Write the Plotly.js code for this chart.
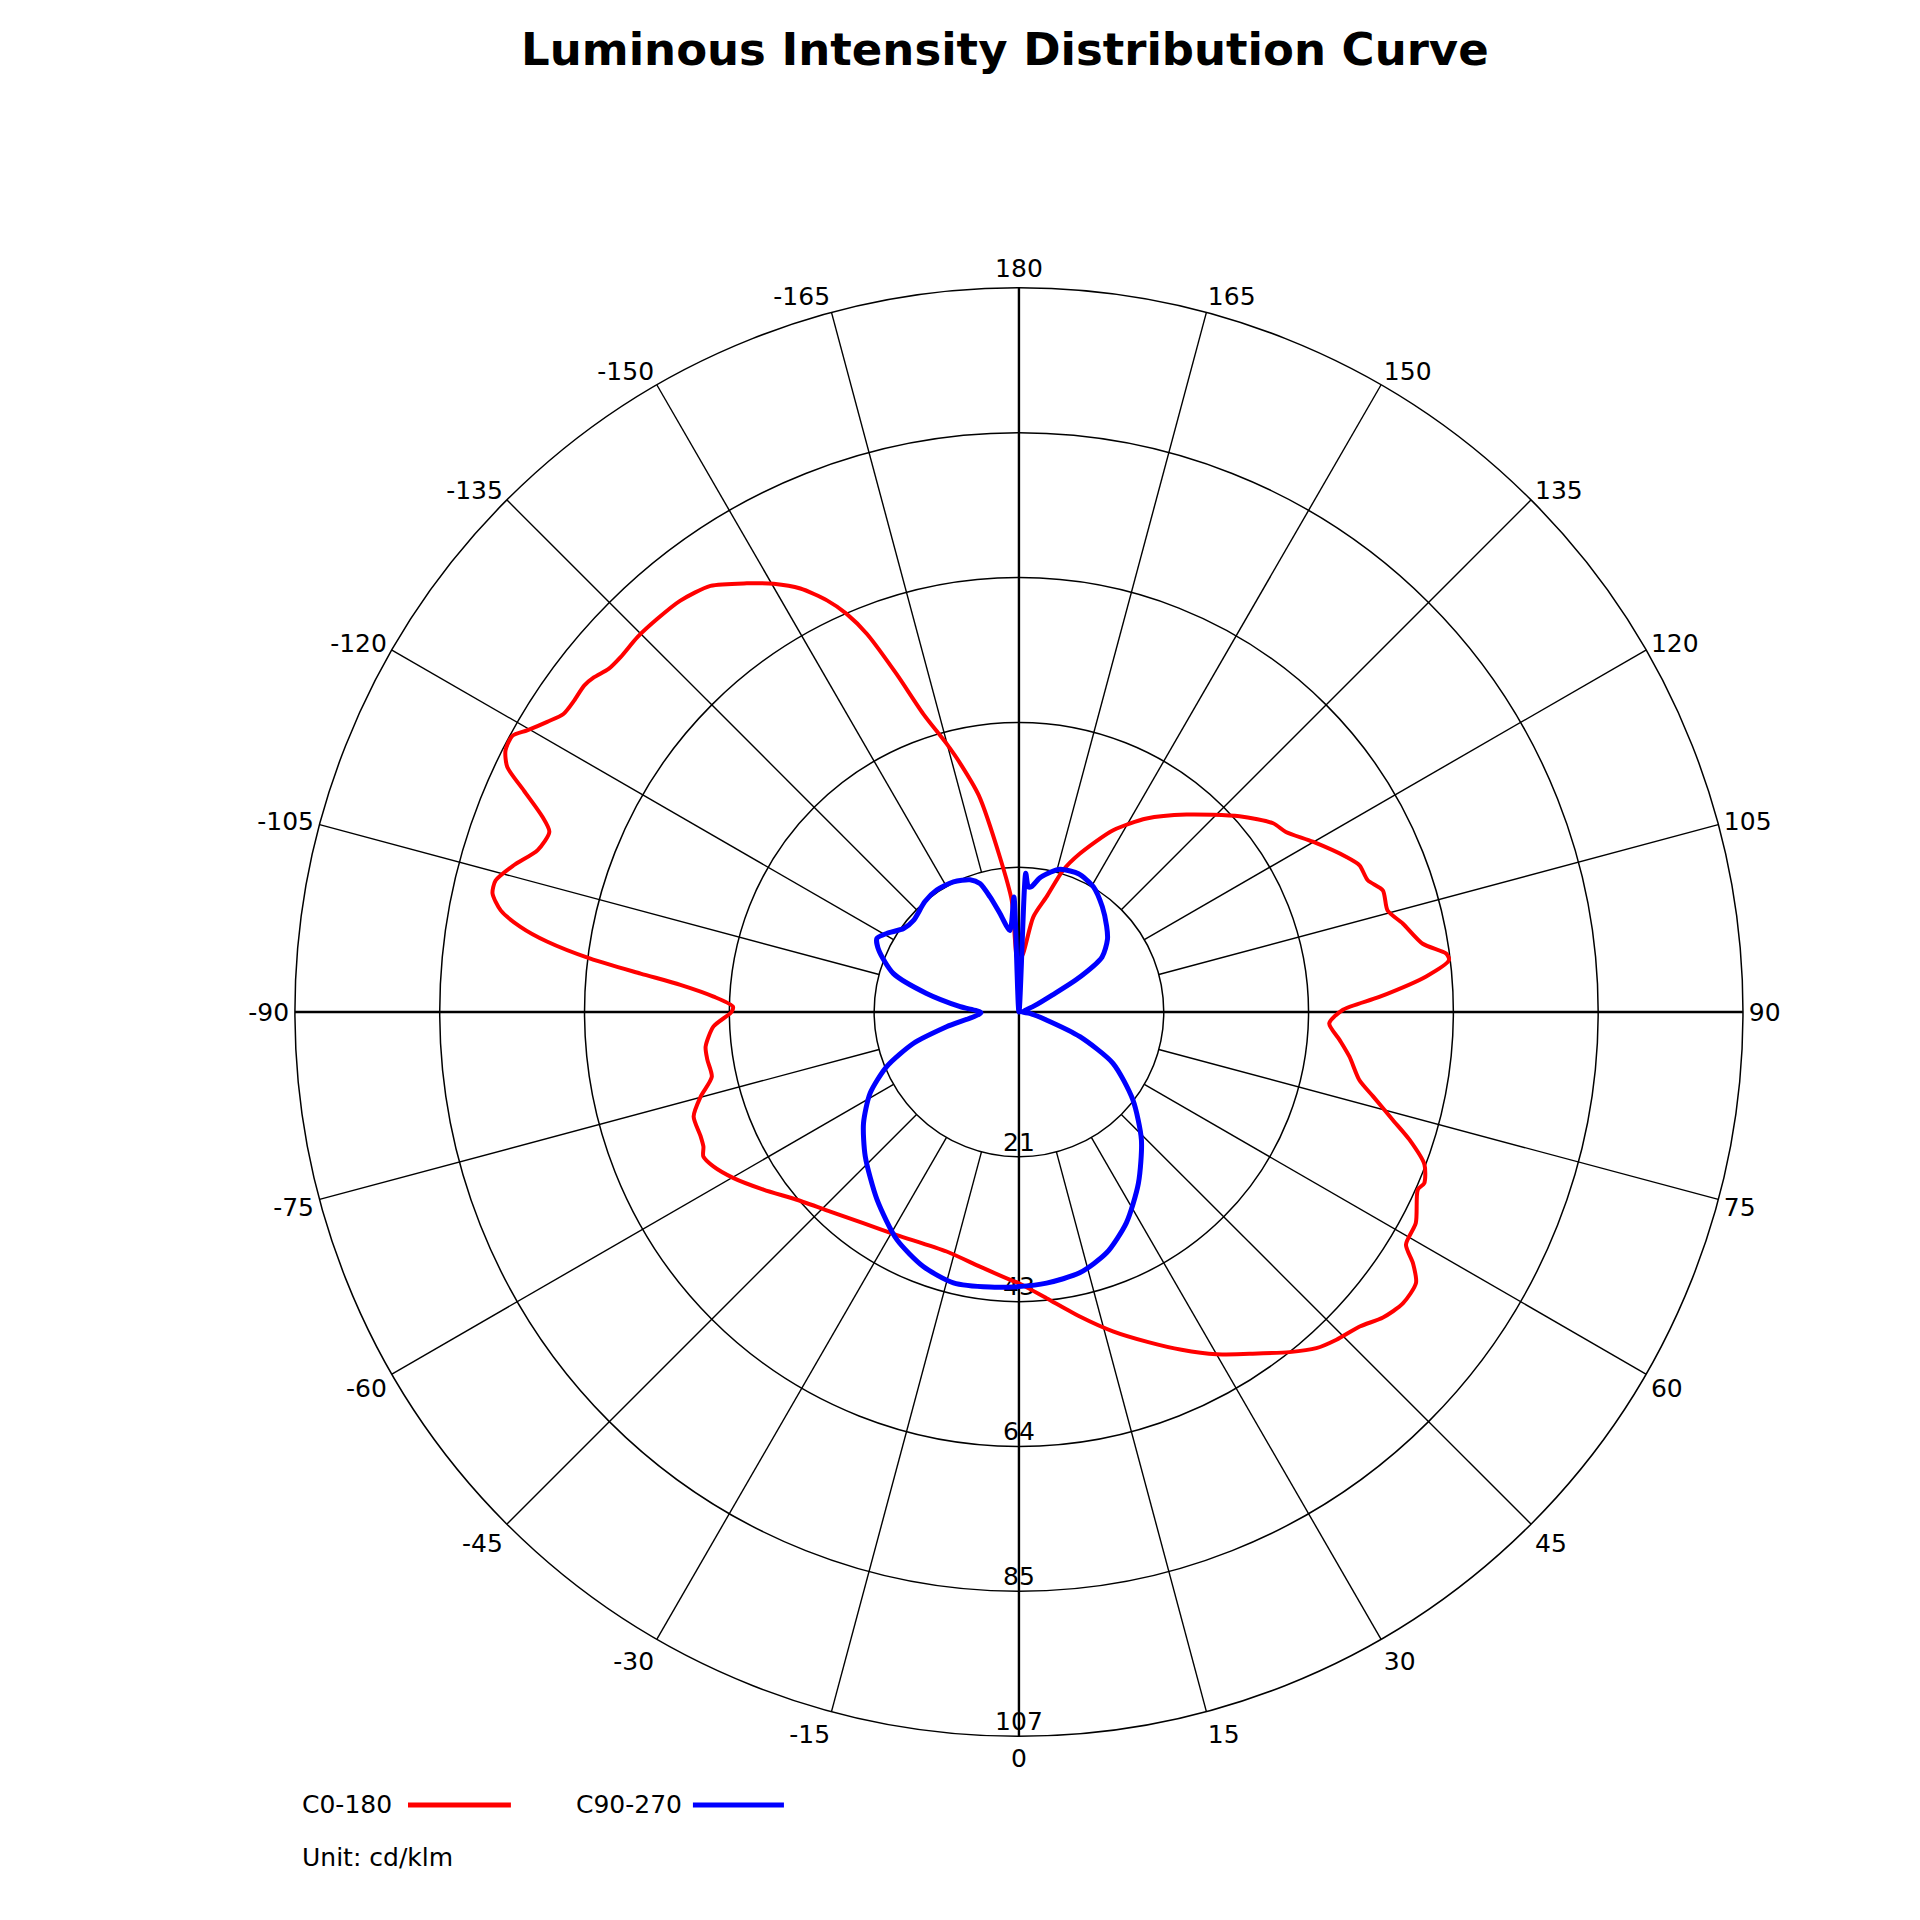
<!DOCTYPE html>
<html>
<head>
<meta charset="utf-8">
<script src="https://cdn.plot.ly/plotly-3.0.1.min.js"></script>
<style>
  body { margin: 0; background: #fff; }
  #graph { width: 1920px; height: 1920px; }
</style>
</head>
<body>
<div id="graph"></div>
<script>
// C0-180 plane (gamma, cd/klm) - right side positive, left side negative
var redTheta = [-180, -177.6, -176.3, -173, -169.5, -166.7, -164.9, -162.2, -160.1, -158.1, -156.6, -155, -152.7, -150.2,
  -147.6, -144.1, -140.5, -137.4, -134.5, -131.7, -129.9, -128.2, -126.9, -125, -123.2, -121.6, -119.8, -118.6, -117,
  -115.6, -114.1, -112.3, -111, -108.6, -106.2, -104.1, -102.7, -101.1, -99.7, -98.5, -97.1, -95.8, -94.6, -92.9, -91.1,
  -90, -87.3, -83.7, -81.3, -78.1, -75.1, -72.2, -68.7, -66.9, -65.4, -63.2, -59.8, -55.2, -49.8, -43.4, -36.4, -28.7,
  -16.8, -8.7, -1.2, 0, 5.5, 11.3, 16.4, 21.4, 25.7, 30, 34, 38.5, 41.5, 44.1, 47.3, 50, 52.8, 55.7, 57.5, 59, 62, 66,
  67.1, 69.4, 71.9, 73.9, 76.6, 78.7, 82.3, 85, 87.9, 90.4, 92.4, 95, 96.9, 97.8, 99.6, 103, 105.4, 108.5, 110.7, 113.3,
  115.4, 120.1, 124, 126.6, 131.6, 139.7, 146.6, 152.6, 159, 162.7, 166.5, 171.4, 175.8, 180];
var redR = [7.5, 8.2, 16.5, 23, 32.5, 37.7, 41, 46.2, 53, 60.1, 64, 67, 70.3, 72.8,
  74.9, 77.6, 78.6, 78.8, 78.9, 78.7, 78.9, 79.8, 80.2, 80.1, 80.3, 81.7, 83.6, 85.1, 85,
  83.7, 80, 76, 74.2, 74.9, 77.6, 79.6, 79.6, 77.9, 74.6, 70.4, 63.7, 56.1, 50.1, 45.1, 42.2,
  42.4, 45.1, 46.5, 46.5, 46.3, 48.6, 50.4, 50.4, 50.6, 51.2, 50.5, 48.7, 45.9, 42.9, 40.5, 38.7, 37.5,
  36.9, 38, 39.7, 40, 42.4, 45.8, 49.1, 52.3, 55.3, 58.3, 60.8, 64.1, 66.2, 67.3, 68.4, 70.1, 71.1, 70.9, 68.9, 66.6, 66.3, 64.4,
  64.9, 63.9, 60.6, 57.4, 53.7, 51.2, 49.2, 47.5, 45.8, 47.8, 53.2, 60.3, 63.9, 63.6, 60.4, 58.1, 56.4, 56.6, 55, 54.7,
  53.4, 50.1, 47.5, 46.7, 43.5, 38.2, 34.2, 30.2, 25, 21.9, 17.5, 14.2, 8.7, 7.5];

// C90-270 plane
var blueTheta = [-180, -177.5, -173.7, -169.1, -165.9, -163.1, -159.7, -153.3, -146, -139.6, -131, -125.9, -120.7,
  -117.4, -113.8, -107.1, -101.4, -95.2, -89, -78.5, -73.5, -67.6, -61.4, -54.4, -46.8, -37.1, -28.2, -20.6, -13.6,
  -6, 0, 5.8, 13.1, 20, 27, 34.9, 43.8, 52.4, 61.4, 68, 73.9, 83, 90, 105, 112, 117, 119.5, 123.5, 129.4, 134.4,
  141.6, 149.3, 156.7, 163, 165.2, 171.2, 174.2, 175.7, 177.2, 180];
var blueR = [0, 17, 12.1, 14.8, 17.5, 19.8, 20.8, 21.5, 21.7, 21.4, 20.6, 21, 22.7,
  23.6, 22.6, 19.4, 13.9, 8.7, 5.6, 10.9, 16.2, 21.1, 25, 28.2, 31.1, 34.7, 38.1, 40.1, 41.1,
  40.8, 40.5, 40.2, 39.5, 37.8, 34.9, 30.8, 26.1, 21.2, 15.8, 9.7, 4.2, 1.6, 0.5, 1, 2.5, 5.5, 9.8, 14.7, 16.9, 18.1,
  19.8, 21.5, 22.2, 22, 21.7, 20, 18.6, 18.5, 20.5, 0];

// radial rings and their printed labels
var ringVals = [21.36, 42.72, 64.08, 85.44, 106.8];
var ringLabels = ['21', '43', '64', '85', '107'];

// angular ticks every 15 degrees (0..345, printed as -165..180)
var angleTicks = [0, 15, 30, 45, 60, 75, 90, 105, 120, 135, 150, 165, 180, 195, 210, 225, 240, 255, 270, 285, 300, 315, 330, 345];
var angleLabels = ['0', '15', '30', '45', '60', '75', '90', '105', '120', '135', '150', '165', '180',
  '-165', '-150', '-135', '-120', '-105', '-90', '-75', '-60', '-45', '-30', '-15'];

var rMax = ringVals[ringVals.length - 1];
var font = 'DejaVu Sans, Verdana, sans-serif';

// thin spokes start at the first ring, main cross goes through the centre
var spokeR = [], spokeT = [], crossR = [], crossT = [];
angleTicks.forEach(function (a) {
  if (a % 90 === 0) {
    crossR.push(0, rMax, null);
    crossT.push(a, a, null);
  } else {
    spokeR.push(ringVals[0], rMax, null);
    spokeT.push(a, a, null);
  }
});

var spokes = {
  type: 'scatterpolar', mode: 'lines', r: spokeR, theta: spokeT,
  line: { color: '#000', width: 1.4 }, hoverinfo: 'skip', showlegend: false
};
var cross = {
  type: 'scatterpolar', mode: 'lines', r: crossR, theta: crossT,
  line: { color: '#000', width: 2.4 }, hoverinfo: 'skip', showlegend: false
};
var ringText = {
  type: 'scatterpolar', mode: 'text', r: ringVals, theta: ringVals.map(function () { return 0; }),
  text: ringLabels, textposition: 'top center',
  textfont: { family: font, size: 25, color: '#000' }, hoverinfo: 'skip', showlegend: false
};
var red = {
  type: 'scatterpolar', mode: 'lines', name: 'C0-180', r: redR, theta: redTheta,
  line: { color: '#ff0000', width: 4, shape: 'spline', smoothing: 0.7 }, showlegend: false
};
var blue = {
  type: 'scatterpolar', mode: 'lines', name: 'C90-270', r: blueR, theta: blueTheta,
  line: { color: '#0000ff', width: 5, shape: 'spline', smoothing: 0.7 }, showlegend: false
};

var layout = {
  width: 1920,
  height: 1920,
  margin: { l: 0, r: 0, t: 0, b: 0 },
  paper_bgcolor: '#fff',
  showlegend: false,
  hovermode: false,
  title: {
    text: '<b>Luminous Intensity Distribution Curve</b>',
    x: 0.5234, xanchor: 'center', y: 0.9745, yanchor: 'middle',
    font: { family: font, size: 45, color: '#000' }
  },
  polar: {
    domain: { x: [0.1536, 0.9078], y: [0.0958, 0.85] },
    bgcolor: '#fff',
    angularaxis: {
      rotation: -90,
      direction: 'counterclockwise',
      tickmode: 'array',
      tickvals: angleTicks,
      ticktext: angleLabels,
      ticks: '',
      showgrid: false,
      showline: true,
      linecolor: '#000',
      linewidth: 1.5,
      tickfont: { family: font, size: 25, color: '#000' }
    },
    radialaxis: {
      range: [0, rMax],
      tickmode: 'array',
      tickvals: ringVals,
      showticklabels: false,
      ticks: '',
      showline: false,
      showgrid: true,
      gridcolor: '#000',
      gridwidth: 1.5
    }
  },
  annotations: [
    { text: 'C0-180', xref: 'paper', yref: 'paper', x: 0.1562, y: 0.0599, xanchor: 'left', yanchor: 'middle',
      showarrow: false, font: { family: font, size: 25, color: '#000' } },
    { text: 'C90-270', xref: 'paper', yref: 'paper', x: 0.299, y: 0.0599, xanchor: 'left', yanchor: 'middle',
      showarrow: false, font: { family: font, size: 25, color: '#000' } },
    { text: 'Unit: cd/klm', xref: 'paper', yref: 'paper', x: 0.1562, y: 0.0323, xanchor: 'left', yanchor: 'middle',
      showarrow: false, font: { family: font, size: 25, color: '#000' } }
  ],
  shapes: [
    { type: 'line', xref: 'paper', yref: 'paper', x0: 0.2125, x1: 0.2661, y0: 0.0599, y1: 0.0599,
      line: { color: '#ff0000', width: 5 } },
    { type: 'line', xref: 'paper', yref: 'paper', x0: 0.3609, x1: 0.4083, y0: 0.0599, y1: 0.0599,
      line: { color: '#0000ff', width: 5 } }
  ]
};

Plotly.newPlot('graph', [spokes, cross, ringText, red, blue], layout, { displayModeBar: false, staticPlot: true });
</script>
</body>
</html>
